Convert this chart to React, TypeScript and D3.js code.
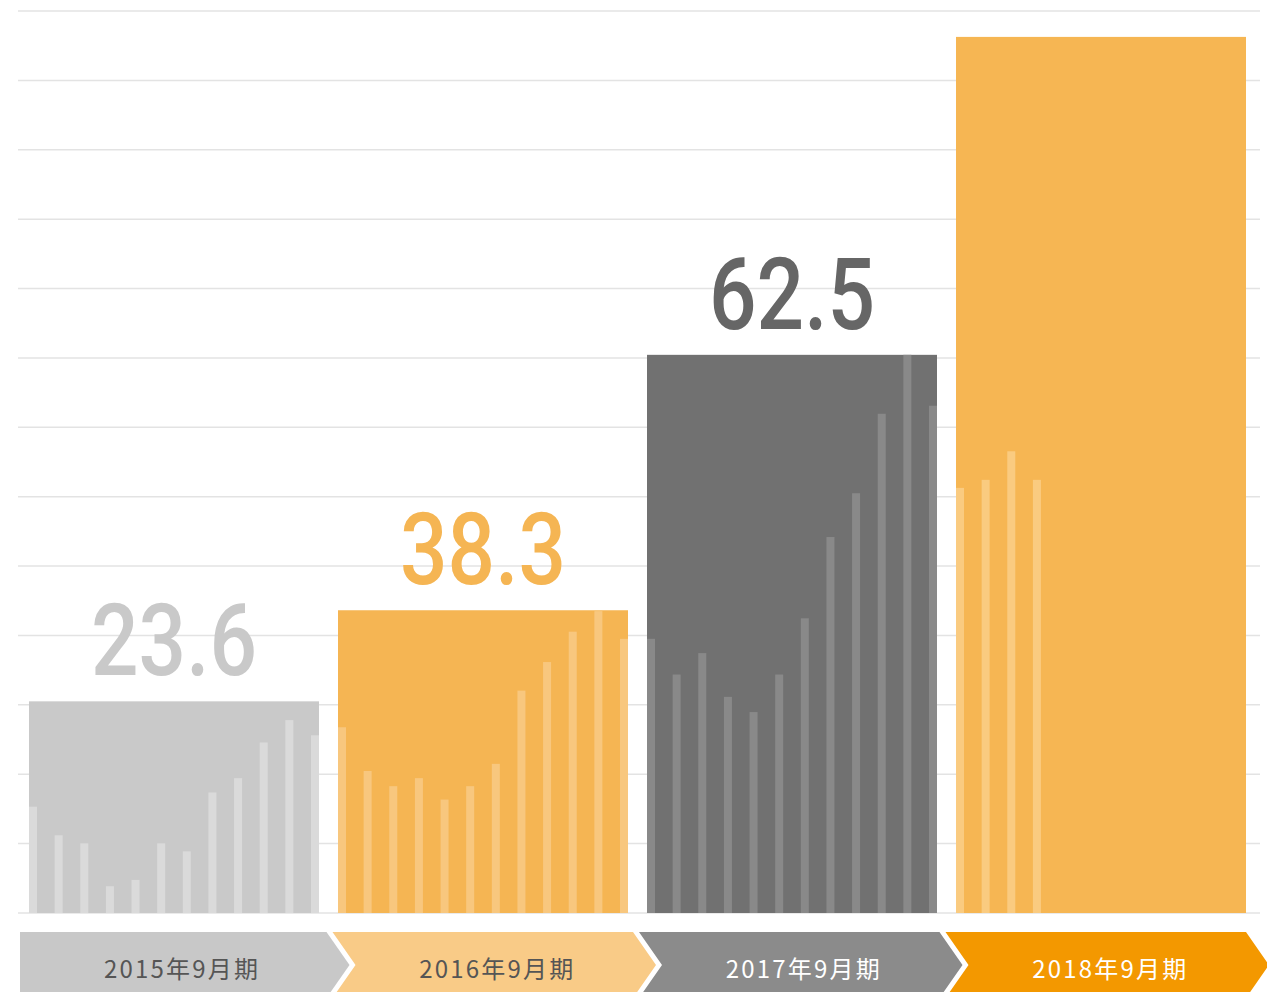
import React from "react";
import * as d3 from "d3";

const periods = ["2015年9月期", "2016年9月期", "2017年9月期", "2018年9月期"];
const barValues = [23.7, 33.9, 62.5, 98.1];
const valueLabels = ["23.6", "38.3", "62.5", ""];
const monthly2015 = [11.9, 8.7, 7.8, 3.0, 3.7, 7.8, 6.9, 13.5, 15.1, 19.1, 21.6, 19.9];
const monthly2016 = [20.8, 15.9, 14.2, 15.1, 12.7, 14.2, 16.7, 24.9, 28.1, 31.5, 33.8, 30.7];
const monthly2017 = [30.7, 26.7, 29.1, 24.2, 22.5, 26.7, 33.0, 42.1, 47.0, 55.9, 62.5, 56.8];
const monthly2018 = [47.6, 48.5, 51.7, 48.5];
const monthlySeries = [monthly2015, monthly2016, monthly2017, monthly2018];
const months = ["10", "11", "12", "1", "2", "3", "4", "5", "6", "7", "8", "9"];

const barColors = ["#c9c9c9", "#f5b553", "#717171", "#f6b653"];
const thinColors = ["#dadada", "#f8c77e", "#898989", "#facb80"];
const labelColors = ["#c9c9c9", "#f5b553", "#666666", "#666666"];
const tabColors = ["#c8c8c8", "#f9cb87", "#8b8b8b", "#f39800"];
const tabTextColors = ["#555555", "#555555", "#ffffff", "#ffffff"];

const W = 1267;
const H = 992;
const yMax = 101;
const gridCount = 13;

export default function App() {
  const y = d3.scaleLinear().domain([0, yMax]).range([913, 11]);
  const x = d3.scaleBand<string>().domain(periods).range([29, 1246]).paddingInner(0.0615).paddingOuter(0);
  const gridVals = d3.range(0, gridCount + 1).map((i) => (yMax * i) / gridCount);

  const tabX = d3.scaleBand<string>().domain(periods).range([20, 20 + 4 * 306.5]);
  const tabTop = 932;
  const tabH = 66;
  const depth = 23;
  const gap = 6;

  const tabPath = (i: number) => {
    const x0 = (tabX(periods[i]) as number) + (i > 0 ? gap : 0);
    const x1 = (tabX(periods[i]) as number) + tabX.bandwidth();
    const mid = tabTop + tabH / 2;
    const b = tabTop + tabH;
    const pts: [number, number][] = [
      [x0, tabTop],
      [x1, tabTop],
      [x1 + depth, mid],
      [x1, b],
      [x0, b],
    ];
    if (i > 0) pts.push([x0 + depth, mid]);
    return d3.line()(pts.concat([pts[0]])) as string;
  };

  return (
    <svg
      width={W}
      height={H}
      style={{ position: "absolute", left: 0, top: 0, background: "#fff" }}
    >
      <g>
        {gridVals.map((v, i) => (
          <line
            key={i}
            x1={18}
            x2={1260}
            y1={y(v)}
            y2={y(v)}
            stroke="#e3e3e3"
            strokeWidth={1.5}
          />
        ))}
      </g>
      {periods.map((p, i) => {
        const bx = x(p) as number;
        const bw = x.bandwidth();
        const mx = d3.scalePoint<string>().domain(months).range([bx + 4, bx + bw - 4]);
        const series = monthlySeries[i];
        return (
          <g key={p}>
            <rect x={bx} y={y(barValues[i])} width={bw} height={y(0) - y(barValues[i])} fill={barColors[i]} />
            {series.map((v, j) => (
              <rect
                key={j}
                x={(mx(months[j]) as number) - 4}
                y={y(v)}
                width={8}
                height={y(0) - y(v)}
                fill={thinColors[i]}
              />
            ))}
            {valueLabels[i] && (
              <text
                x={bx + bw / 2}
                y={y(barValues[i]) - 26}
                textAnchor="middle"
                fontFamily="Roboto, 'DejaVu Sans', sans-serif"
                fontWeight={500}
                fontSize={100}
                textLength={166}
                lengthAdjust="spacingAndGlyphs"
                fill={labelColors[i]}
              >
                {valueLabels[i]}
              </text>
            )}
          </g>
        );
      })}
      {periods.map((p, i) => {
        const left = (tabX(p) as number) + (i > 0 ? gap + depth / 2 : 0);
        const right = (tabX(p) as number) + tabX.bandwidth() + depth / 2;
        return (
          <g key={"tab" + p}>
            <path d={tabPath(i)} fill={tabColors[i]} />
            <text
              x={(left + right) / 2 + 3}
              y={978}
              textAnchor="middle"
              fontFamily="'Noto Sans CJK JP', 'Noto Sans', sans-serif"
              fontSize={24}
              letterSpacing={2.2}
              fill={tabTextColors[i]}
            >
              {p}
            </text>
          </g>
        );
      })}
    </svg>
  );
}
